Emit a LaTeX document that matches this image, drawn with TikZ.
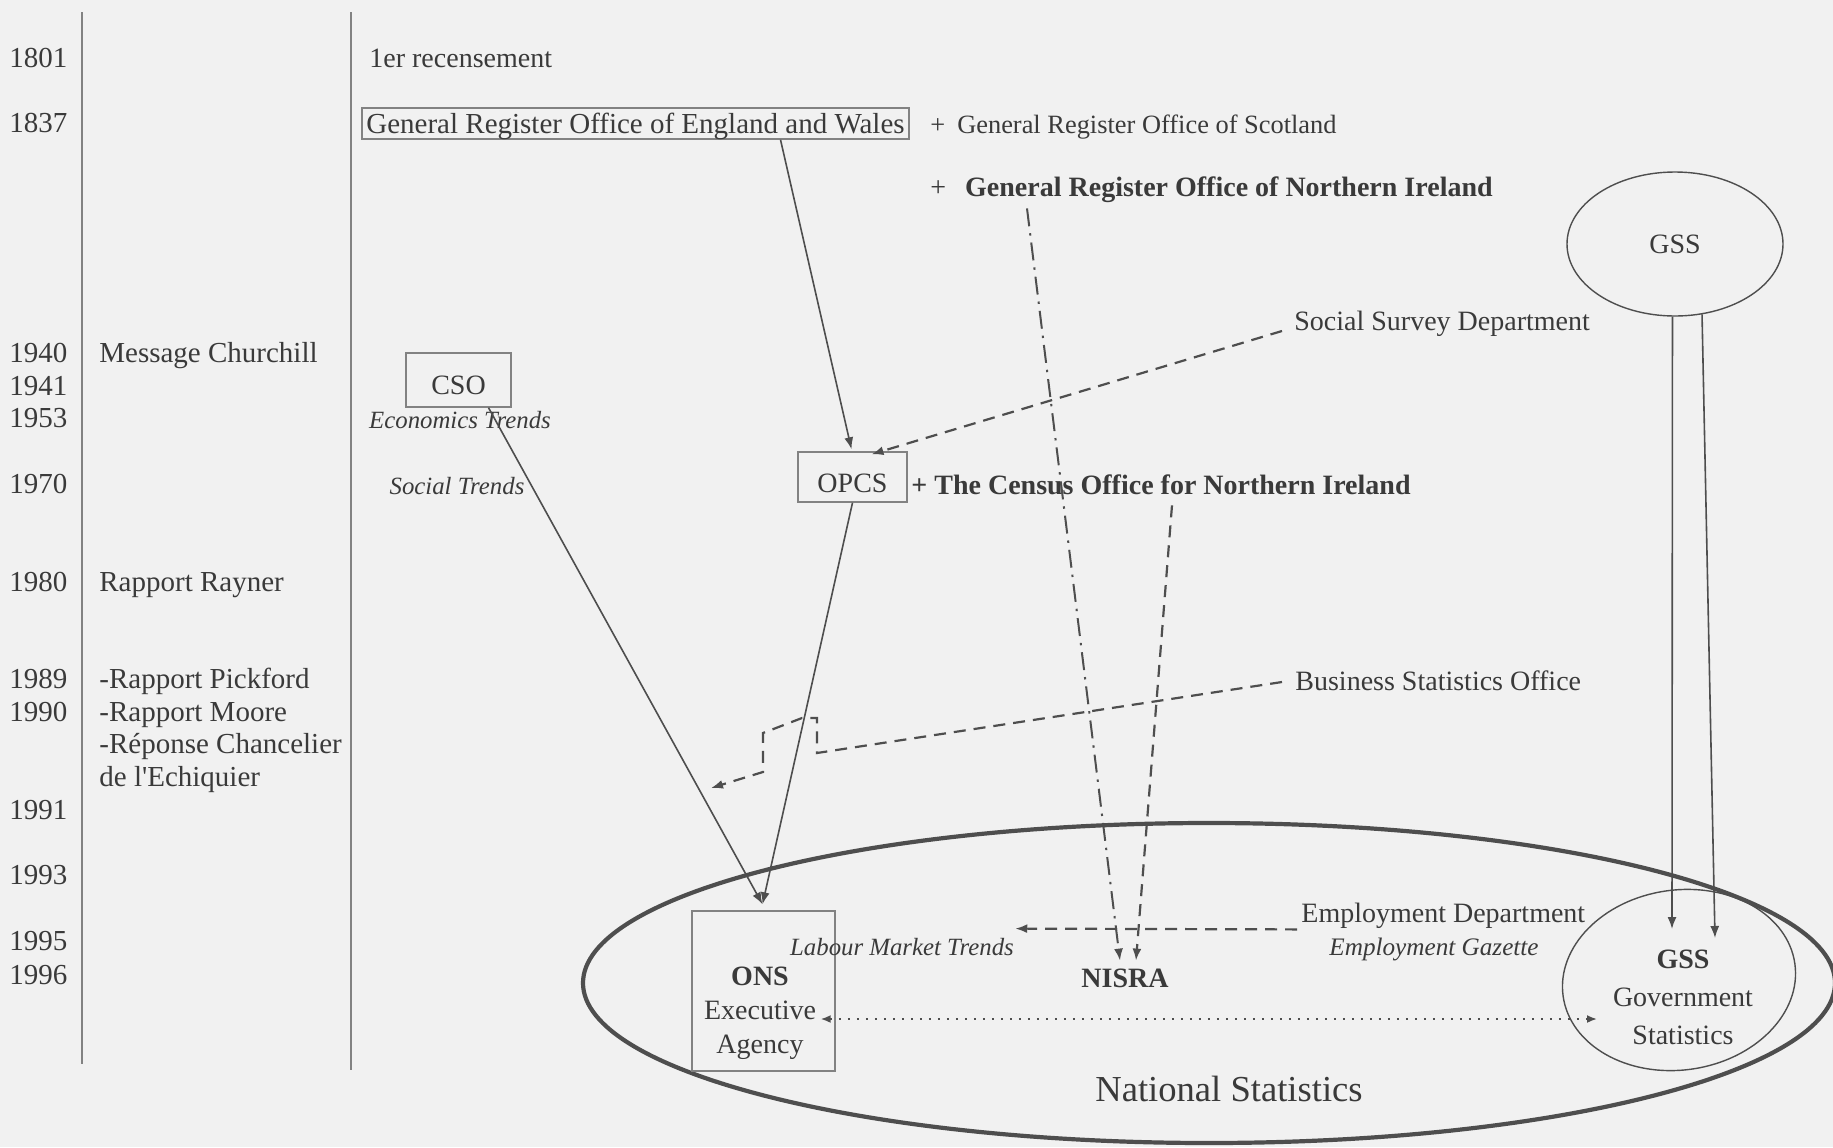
\documentclass[tikz,border=0pt]{standalone}
\usepackage{fontspec}
\setmainfont{Liberation Serif}
\usetikzlibrary{arrows.meta,shapes.geometric,calc}
\definecolor{bg}{RGB}{241,241,241}
\definecolor{ink}{RGB}{58,58,58}
\definecolor{ln}{RGB}{78,78,78}
\definecolor{boxc}{RGB}{130,130,130}
\begin{document}
\begin{tikzpicture}[x=0.5pt,y=-0.5pt,
  lbl/.style={inner sep=2pt, text=ink, text height=12pt, text depth=2pt, font=\fontsize{14}{17}\selectfont},
  yr/.style={lbl, font=\fontsize{14.5}{17}\selectfont},
  itl/.style={lbl, font=\fontsize{12.4}{15}\selectfont\itshape, text height=11.5pt, text depth=1.5pt},
  bld/.style={lbl, font=\fontsize{14}{17}\selectfont\bfseries},
  framebox/.style={draw=boxc, line width=0.7pt, inner sep=0pt, text=ink, rectangle},
  oval/.style={ellipse, draw=ln, line width=0.7pt, inner sep=0pt, text=ink},
  arr/.style={draw=ln, line width=0.8pt, -{Latex[length=6pt,width=4.5pt]}},
  dsh/.style={arr, line width=1.1pt, dash pattern=on 6pt off 4pt},
  dshdot/.style={arr, line width=1pt, dash pattern=on 9pt off 3.5pt on 1.2pt off 3.5pt},
  dots/.style={draw=ln, line width=0.9pt, dash pattern=on 0.9pt off 3.6pt,
     {Latex[length=5pt,width=4pt]}-{Latex[length=5pt,width=4pt]}}
]
\useasboundingbox[fill=bg] (0,0) rectangle (1833,1147);

% timeline rules
\draw[boxc, line width=0.8pt] (82,12) -- (82,1064);
\draw[boxc, line width=0.8pt] (351,12) -- (351,1070);

% years
\foreach \yr/\yy in {1801/57, 1837/122, 1940/352, 1941/385, 1953/417, 1970/483,
   1980/581, 1989/678, 1990/711, 1991/809, 1993/874, 1995/940, 1996/974}
  \node[yr, anchor=west] (y\yr) at (5,\yy) {\yr};

% left column
\node[yr, anchor=west] (churchill) at (95,352) {Message Churchill};
\node[yr, anchor=west] (rayner) at (95,581) {Rapport Rayner};
\node[yr, anchor=west] (pickford) at (95,678) {-Rapport Pickford};
\node[yr, anchor=west] (moore) at (95,711) {-Rapport Moore};
\node[yr, anchor=west] (reponse) at (95,743) {-Réponse Chancelier};
\node[yr, anchor=west] (echiq) at (95,776) {de l\textquotesingle Echiquier};

% main column
\node[lbl, anchor=west] (rec) at (365,57) {1er recensement};
\node[framebox, minimum width=273.5pt, minimum height=15.5pt, text height=12pt, text depth=2pt,
   font=\fontsize{14.5}{17}\selectfont]
   (groew) at (635.5,123.5) {General Register Office of England and Wales};
\node[lbl, anchor=west, font=\fontsize{13.2}{16}\selectfont] (gros) at (926,123)
   {+\hspace{6pt}General Register Office of Scotland};
\node[lbl, anchor=west] (groni) at (926,186)
   {+\hspace{9.5pt}\textbf{General Register Office of Northern Ireland}};
\node[oval, minimum width=108pt, minimum height=72pt, font=\fontsize{14}{17}\selectfont]
   (gsst) at (1675,244) {GSS};
\node[lbl, anchor=west] (ssd) at (1290,320) {Social Survey Department};

\node[framebox, minimum width=52.5pt, minimum height=27pt, text height=14.3pt, text depth=0pt,
   font=\fontsize{14}{17}\selectfont]
   (cso) at (458.5,380) {CSO};
\node[itl] (ecot) at (460,418) {Economics Trends};
\node[itl] (soct) at (457,484) {Social Trends};

\node[framebox, minimum width=54.5pt, minimum height=25pt, text height=15.3pt, text depth=0pt,
   font=\fontsize{14}{17}\selectfont]
   (opcs) at (852.5,477) {OPCS};
\node[bld, anchor=west] (cofni) at (907,484) {+ The Census Office for Northern Ireland};

\node[lbl, anchor=west] (bso) at (1291,680) {Business Statistics Office};
\coordinate (bsoend) at (711,788);

% National Statistics
\node[ellipse, draw=ln, line width=2.1pt, inner sep=0pt, minimum width=626pt, minimum height=160pt]
   (ns) at (1209,983) {};
\node[text=ink, font=\fontsize{18.3}{22}\selectfont] (nstxt) at (1229,1089) {National Statistics};

\node[framebox, minimum width=71.5pt, minimum height=80pt] (ons) at (763.5,991) {};
\node[text=ink, align=center, inner sep=0pt, font=\fontsize{14}{17}\selectfont]
   (onstxt) at (760,1013) {\textbf{ONS}\\Executive\\Agency};
\node[itl] (lmt) at (902,945) {Labour Market Trends};
\node[bld] (nisra) at (1125,977) {NISRA};
\node[lbl, anchor=west] (emp) at (1297,912) {Employment Department};
\node[itl, anchor=west, font=\fontsize{12.6}{15}\selectfont\itshape] (empg) at (1325,945) {Employment Gazette};

\node[oval, rotate=8, minimum width=117pt, minimum height=90pt] (gssb) at (1679,980) {};
\node[text=ink, align=center, inner sep=0pt, font=\fontsize{14}{19}\selectfont]
   (gssbtxt) at (1683,997) {\textbf{GSS}\\Government\\Statistics};

% connectors
\coordinate (onsin) at ([shift={(-1,-6)}]ons.north);
\draw[arr] ([shift={(145,0)}]groew.south) -- ([shift={(-1,-2)}]opcs.north);
\draw[arr] ([shift={(30,0)}]cso.south) -- (onsin);
\draw[arr] (opcs.south) -- (onsin);
\draw[dsh] ([shift={(-8,11)}]ssd.west) -- ([shift={(19,3)}]opcs.north);
\draw[dshdot] ([shift={(101,4)}]groni.south west) -- ([shift={(-5,2)}]nisra.north);
\draw[dsh] ([shift={(265,3)}]cofni.south west) -- ([shift={(11,2)}]nisra.north);
\draw[dsh] ([shift={(-9,2)}]bso.west) -- (817,753) -- (817,718) -- (802,718)
   -- (763,733) -- (763,772) -- (bsoend);
\draw[dsh] ([shift={(0,-1)}]emp.south west) -- ([shift={(-3,1)}]lmt.north east);
\draw[dots] ([shift={(-15,28)}]ons.east) -- ([shift={(-82,39)}]gssb.center);
\draw[arr] (gsst.-92) -- ([shift={(-7,-51)}]gssb.center);
\draw[arr] (gsst.-69) -- ([shift={(36,-42)}]gssb.center);
\end{tikzpicture}
\end{document}
